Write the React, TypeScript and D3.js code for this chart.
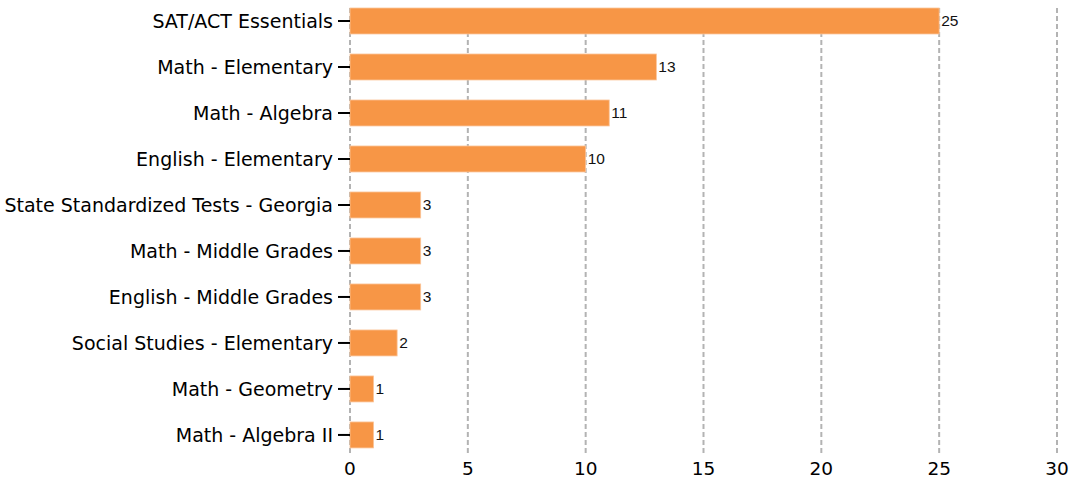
import * as React from 'react';
import * as d3 from 'd3';

const categories = [
  'SAT/ACT Essentials',
  'Math - Elementary',
  'Math - Algebra',
  'English - Elementary',
  'State Standardized Tests - Georgia',
  'Math - Middle Grades',
  'English - Middle Grades',
  'Social Studies - Elementary',
  'Math - Geometry',
  'Math - Algebra II',
];
const counts = [25, 13, 11, 10, 3, 3, 3, 2, 1, 1];
const xTicks = [0, 5, 10, 15, 20, 25, 30];

const W = 1069;
const H = 481;
const margin = { top: 8, right: 12, bottom: 28, left: 350 };
const LABEL_FONT = 'Tahoma, "DejaVu Sans", sans-serif';

function translate(x: number, y: number) {
  return `translate(${x}, ${y})`;
}

export default function App() {
  const innerH = H - margin.top - margin.bottom;

  const x = d3.scaleLinear().domain([0, 30]).range([0, 707]);
  const y = d3
    .scaleBand<string>()
    .domain(categories)
    .range([0, innerH])
    .paddingInner(0.435)
    .paddingOuter(0.055)
    .align(0);

  return (
    <svg width={W} height={H} style={{ position: 'absolute', left: 0, top: 0 }}>
      <g transform={translate(margin.left, margin.top)}>
        {/* grid */}
        {xTicks.map((t) => (
          <line
            key={'g' + t}
            x1={x(t)}
            x2={x(t)}
            y1={0}
            y2={innerH}
            stroke="#b3b3b3"
            strokeWidth={2}
            strokeDasharray="5,3"
          />
        ))}
        {/* bars */}
        {categories.map((c, i) => (
          <g key={c}>
            <rect
              x={x(0)}
              y={y(c)}
              width={x(counts[i]) - x(0)}
              height={y.bandwidth()}
              fill="#f79646"
              stroke="#fbc59a"
              strokeWidth={0.8}
            />
            <text
              x={x(counts[i]) + 2}
              y={(y(c) as number) + y.bandwidth() / 2}
              dy="0.35em"
              fontFamily='Arial, "Liberation Sans", sans-serif'
              fontSize={15.5}
              fill="#111"
            >
              {counts[i]}
            </text>
          </g>
        ))}
        {/* y axis */}
        {categories.map((c) => {
          const cy = (y(c) as number) + y.bandwidth() / 2;
          return (
            <g key={'y' + c} transform={translate(0, cy)}>
              <line x1={-12} x2={0} y1={0} y2={0} stroke="#000" strokeWidth={2} />
              <text
                x={-17}
                dy="0.35em"
                textAnchor="end"
                fontFamily={LABEL_FONT}
                fontSize={19}
                fill="#000"
              >
                {c}
              </text>
            </g>
          );
        })}
        {/* x axis labels */}
        {xTicks.map((t) => (
          <text
            key={'x' + t}
            x={x(t)}
            y={innerH + 22}
            textAnchor="middle"
            fontFamily={LABEL_FONT}
            fontSize={18.5}
            fill="#000"
          >
            {t}
          </text>
        ))}
      </g>
    </svg>
  );
}
